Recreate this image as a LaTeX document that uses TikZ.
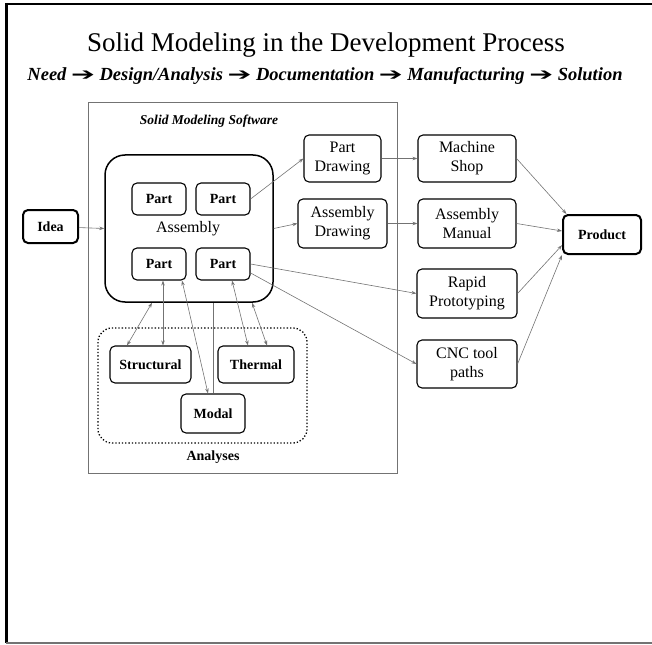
\documentclass[tikz,border=0pt]{standalone}
\usepackage{fontspec}
\usepackage{graphicx}
\setmainfont{Liberation Serif}
\newfontfamily\arrowfont{DejaVu Sans}
\usetikzlibrary{arrows.meta}
\newcommand{\subarrow}{{\arrowfont\bfseries\fontsize{15}{18}\selectfont\scalebox{1.9}[1.15]{➔}}}
\begin{document}
\begin{tikzpicture}[x=1pt,y=-1pt,
  box/.style={draw=black,line width=1.1pt,rounded corners=5pt,align=center,inner sep=0pt,font=\fontsize{16}{19}\selectfont},
  boldbox/.style={box,font=\fontsize{14}{16}\selectfont\bfseries},
  thickbox/.style={boldbox,line width=2pt},
  conn/.style={draw=black!55,line width=0.6pt,-{Stealth[length=5pt,width=3.5pt]}},
  dconn/.style={draw=black!55,line width=0.6pt,{Stealth[length=5pt,width=3.5pt]}-{Stealth[length=5pt,width=3.5pt]}},
  pconn/.style={draw=black!55,line width=0.6pt}]
\useasboundingbox (0,0) rectangle (652,644);
% outer frame
\draw[line width=3pt] (6.5,3) -- (6.5,643);
\draw[line width=2.5pt] (5,4) -- (652,4);
\draw[black!55,line width=2pt] (6,643) -- (652,643);
% titles
\node (title) at (326,45) {\fontsize{27}{30}\selectfont Solid Modeling in the Development Process};
\node (sub) at (325,76) {\fontsize{18.5}{20}\selectfont\bfseries\itshape Need \subarrow{} Design/Analysis \subarrow{} Documentation \subarrow{} Manufacturing \subarrow{} Solution};
% software box
\draw[black!55,line width=0.7pt] (88,102) rectangle (397,473);
\node (swl) at (209,121) {\fontsize{13.5}{15}\selectfont\bfseries\itshape Solid Modeling Software};
% analyses dotted
\draw[line width=1.3pt,dotted,rounded corners=14pt] (98,328) rectangle (307,443);
\node (anl) at (213,457) {\fontsize{14}{16}\selectfont\bfseries Analyses};
% nodes
\node[thickbox,minimum width=55pt,minimum height=33pt] (idea) at (50.5,226.5) {Idea};
\node[draw,line width=1.5pt,rounded corners=20pt,minimum width=168pt,minimum height=147pt] (asm) at (189,228.5) {};
\node[font=\fontsize{16}{18}\selectfont] (asml) at (188,229) {Assembly};
\node[boldbox,minimum width=54pt,minimum height=32pt] (p1) at (159,199) {Part};
\node[boldbox,minimum width=54pt,minimum height=32pt] (p2) at (223,199) {Part};
\node[boldbox,minimum width=54pt,minimum height=32pt] (p3) at (159,264) {Part};
\node[boldbox,minimum width=54pt,minimum height=32pt] (p4) at (223,264) {Part};
\node[box,minimum width=77pt,minimum height=47pt] (pd) at (342.5,158.5) {Part\\Drawing};
\node[box,minimum width=89pt,minimum height=49pt] (ad) at (342.5,223.5) {Assembly\\Drawing};
\node[box,minimum width=98pt,minimum height=47pt] (ms) at (467,158.5) {Machine\\Shop};
\node[box,minimum width=98pt,minimum height=49pt] (am) at (467,223.5) {Assembly\\Manual};
\node[box,minimum width=100pt,minimum height=49pt] (rp) at (467,293.5) {Rapid\\Prototyping};
\node[box,minimum width=100pt,minimum height=48pt] (cnc) at (467,364) {CNC tool\\paths};
\node[thickbox,minimum width=78pt,minimum height=39pt] (prod) at (602,234.5) {Product};
\node[boldbox,minimum width=81pt,minimum height=37pt] (st) at (150.5,364.5) {Structural};
\node[boldbox,minimum width=76pt,minimum height=37pt] (th) at (256,364.5) {Thermal};
\node[boldbox,minimum width=64pt,minimum height=39pt] (md) at (213,413.5) {Modal};
% connectors
\draw[conn] (idea) -- (asm.west);
\draw[conn] (p2.east) -- (pd.west);
\draw[conn] (asm.east) -- (ad.west);
\draw[conn] (p4.east) -- (rp.west);
\draw[conn] (p4.-18) -- (cnc.west);
\draw[conn] (pd.east) -- (ms.west);
\draw[conn] (ad.east) -- (am.west);
\draw[conn] (ms.east) -- (prod.150);
\draw[conn] (am.east) -- (prod.175);
\draw[conn] (rp.east) -- (prod.195);
\draw[conn] (cnc.east) -- (prod.south west);
\draw[dconn] ([xshift=-37pt]asm.south) -- ([xshift=-23.5pt]st.north);
\draw[dconn] ([xshift=4pt]p3.south) -- ([xshift=12.5pt]st.north);
\draw[dconn] ([xshift=23pt]p3.south) -- ([xshift=-5pt]md.north);
\draw[pconn] ([xshift=24pt]asm.south) -- (md.north);
\draw[dconn] ([xshift=9pt]p4.south) -- ([xshift=-8pt]th.north);
\draw[dconn] ([xshift=63pt]asm.south) -- ([xshift=11pt]th.north);
\end{tikzpicture}
\end{document}
